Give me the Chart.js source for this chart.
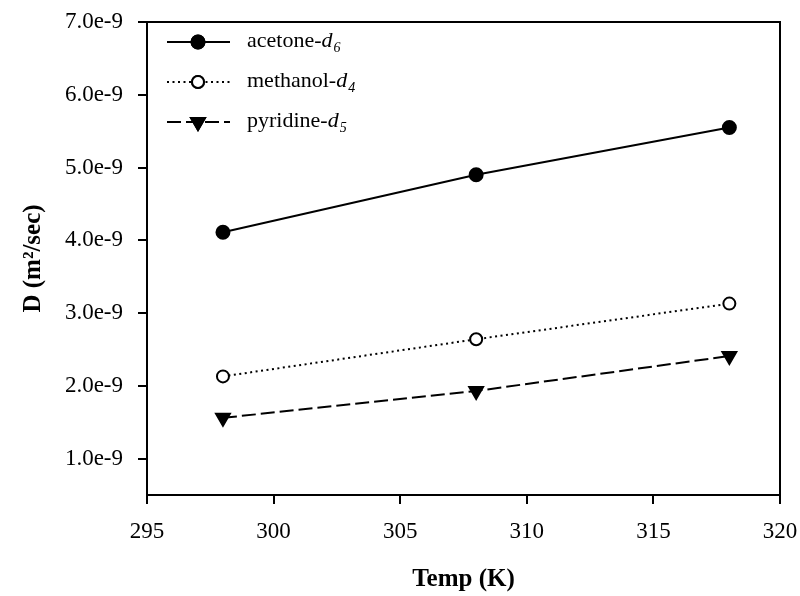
<!DOCTYPE html>
<html>
<head>
<meta charset="utf-8">
<script src="https://cdn.jsdelivr.net/npm/chart.js@4.4.1/dist/chart.umd.min.js"></script>
<style>
    html, body { margin: 0; padding: 0; background: #fff; }
    #grafico { width: 800px; height: 596px; }
</style>
</head>
<body>
<div id="grafico"><canvas id="Grafico1" width="800" height="596"></canvas></div>
<script>
// temperaturas (K)
let temps = [298, 308, 318];
// D en unidades de 1e-9 m2/sec
let acetona = [4.11, 4.90, 5.55];
let metanol = [2.13, 2.64, 3.13];
let piridina = [1.56, 1.93, 2.41];
let nombres = ['acetone-', 'methanol-', 'pyridine-'];
let subindices = ['6', '4', '5'];
let ticksY = [1, 2, 3, 4, 5, 6, 7];
let ticksX = [295, 300, 305, 310, 315, 320];

function puntos(valores){
    return valores.map((v, i) => ({x: temps[i], y: v}));
}

let fuente = "'Liberation Serif', 'Times New Roman', serif";

let series = [
    {label: nombres[0], data: puntos(acetona), borderDash: [], pointStyle: 'circle', pointRadius: 6.5, pointBackgroundColor: '#000', rotation: 0},
    {label: nombres[1], data: puntos(metanol), borderDash: [2, 3.5], pointStyle: 'circle', pointRadius: 6, pointBackgroundColor: '#fff', rotation: 0},
    {label: nombres[2], data: puntos(piridina), borderDash: [14, 5], pointStyle: 'triangle', pointRadius: 8, pointBackgroundColor: '#000', rotation: 180}
];

// leyenda dibujada a mano, estilo SigmaPlot
let leyenda = {
    id: 'leyenda',
    afterDraw(chart){
        let ctx = chart.ctx;
        ctx.save();
        series.forEach((s, i) => {
            let y = 42 + i * 40;
            ctx.strokeStyle = '#000';
            ctx.lineWidth = 2;
            ctx.setLineDash(s.borderDash);
            ctx.beginPath();
            ctx.moveTo(167, y);
            ctx.lineTo(230, y);
            ctx.stroke();
            ctx.setLineDash([]);
            ctx.fillStyle = s.pointBackgroundColor;
            Chart.helpers.drawPoint(ctx, {pointStyle: s.pointStyle, radius: s.pointRadius, rotation: s.rotation, borderWidth: 2}, 198, y);
            ctx.fill();
            ctx.stroke();
            ctx.fillStyle = '#000';
            ctx.textBaseline = 'alphabetic';
            ctx.textAlign = 'left';
            ctx.font = '22px ' + fuente;
            ctx.fillText(s.label, 247, y + 5);
            let w = ctx.measureText(s.label).width;
            ctx.font = 'italic 22px ' + fuente;
            ctx.fillText('d', 247 + w, y + 5);
            let wd = ctx.measureText('d').width;
            ctx.font = 'italic 14px ' + fuente;
            ctx.fillText(subindices[i], 247 + w + wd + 1, y + 10);
        });
        // marco superior y derecho
        let a = chart.chartArea;
        ctx.lineWidth = 2;
        ctx.beginPath();
        ctx.moveTo(a.left, a.top);
        ctx.lineTo(a.right, a.top);
        ctx.lineTo(a.right, a.bottom);
        ctx.stroke();
        ctx.restore();
    }
};

let datos = {
    datasets: series.map(s => ({
        label: s.label,
        data: s.data,
        borderColor: '#000',
        borderWidth: 2,
        borderDash: s.borderDash,
        pointStyle: s.pointStyle,
        pointRadius: s.pointRadius,
        pointBackgroundColor: s.pointBackgroundColor,
        pointBorderColor: '#000',
        pointBorderWidth: 2,
        pointRotation: s.rotation,
        tension: 0,
        fill: false
    }))
};

let opciones = {
    responsive: false,
    animation: false,
    layout: {padding: {top: 22, right: 20, left: 0, bottom: 0}},
    plugins: {legend: {display: false}, tooltip: {enabled: false}},
    scales: {
        x: {
            type: 'linear',
            min: 295,
            max: 320,
            afterFit(scale){
                scale.height = 101;
                scale.paddingLeft = 0;
                scale.paddingRight = 0;
            },
            afterBuildTicks(scale){ scale.ticks = ticksX.map(v => ({value: v})); },
            grid: {drawOnChartArea: false, drawTicks: true, tickLength: 9, color: '#000', lineWidth: 2},
            border: {display: true, color: '#000', width: 2},
            ticks: {color: '#000', padding: 14, font: {family: fuente, size: 23}, maxRotation: 0},
            title: {display: true, text: 'Temp (K)', color: '#000', font: {family: fuente, size: 25, weight: 'bold'}, padding: {top: 0, bottom: 1}}
        },
        y: {
            min: 0.5,
            max: 7,
            afterFit(scale){
                scale.width = 147;
                scale.paddingTop = 0;
                scale.paddingBottom = 0;
            },
            afterBuildTicks(scale){ scale.ticks = ticksY.map(v => ({value: v})); },
            grid: {drawOnChartArea: false, drawTicks: true, tickLength: 9, color: '#000', lineWidth: 2},
            border: {display: true, color: '#000', width: 2},
            ticks: {color: '#000', padding: 15, font: {family: fuente, size: 23}, callback: v => v.toFixed(1) + 'e-9'},
            title: {display: true, text: 'D (m\u00b2/sec)', color: '#000', font: {family: fuente, size: 25, weight: 'bold'}, padding: {top: 19, bottom: 0}}
        }
    }
};

let CanvasG1 = document.getElementById('Grafico1').getContext('2d');
let G1 = new Chart(CanvasG1, {
    type: 'line',
    data: datos,
    options: opciones,
    plugins: [leyenda]
});
</script>
</body>
</html>
